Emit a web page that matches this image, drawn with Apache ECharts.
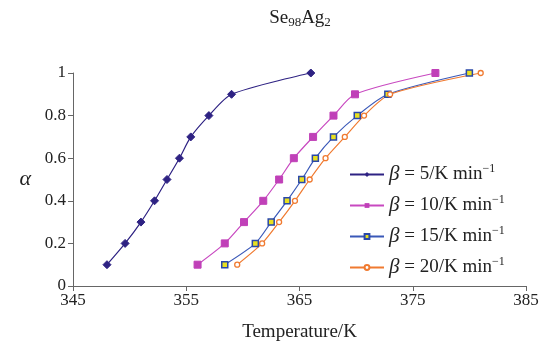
<!DOCTYPE html>
<html>
<head>
<meta charset="utf-8">
<script src="https://cdn.jsdelivr.net/npm/echarts@6/dist/echarts.min.js"></script>
<style>
  html, body { margin: 0; padding: 0; background: #fff; }
  #chart { width: 541px; height: 342px; }
</style>
</head>
<body>
<div id="chart"></div>
<script>
// alpha levels shared by all heating rates
var alphaLevels = [0.1, 0.2, 0.3, 0.4, 0.5, 0.6, 0.7, 0.8, 0.9, 1.0];
// temperatures (K) for each heating rate
var temp5 = [348.0, 349.6, 351.0, 352.2, 353.3, 354.4, 355.4, 357.0, 359.0, 366.0];
var temp10 = [356.0, 358.4, 360.1, 361.8, 363.2, 364.5, 366.2, 368.0, 369.9, 377.0];
var temp15 = [358.4, 361.1, 362.5, 363.9, 365.2, 366.4, 368.0, 370.1, 372.8, 380.0];
var temp20 = [359.5, 361.7, 363.2, 364.6, 365.9, 367.3, 369.0, 370.7, 373.0, 381.0];
var rates = ['5', '10', '15', '20'];
var xTicks = [345, 355, 365, 375, 385];

var serif = 'Liberation Serif';

function pairs (temps) {
  var out = [];
  temps.forEach(function (t, i) {
    out.push([t, alphaLevels[i]]);
  });
  return out;
}

function legendName (r) {
  return 'b' + r;
}

var chart = echarts.init(document.getElementById('chart'));

var option = {
  animation: false,
  title: {
    text: 'Se{sub|98}Ag{sub|2}',
    left: 295,
    top: 2,
    textAlign: 'center',
    textStyle: {
      fontFamily: serif,
      fontSize: 19,
      fontWeight: 'normal',
      color: '#222',
      lineHeight: 22,
      rich: {
        sub: { fontFamily: serif, fontSize: 13, color: '#222', verticalAlign: 'bottom', lineHeight: 16, padding: [6, 0, 0, 0] }
      }
    }
  },
  grid: {
    left: 73,
    right: 15,
    top: 73,
    bottom: 56,
    containLabel: false,
    outerBoundsMode: 'none'
  },
  legend: {
    orient: 'vertical',
    left: 344,
    top: 158,
    itemWidth: 34,
    itemHeight: 6,
    itemGap: 9,
    data: rates.map(legendName),
    formatter: function (name) {
      return '{b|β} = ' + name.slice(1) + '/K min{sup|−1}';
    },
    textStyle: {
      fontFamily: serif,
      fontSize: 19,
      color: '#222',
      rich: {
        b: { fontFamily: serif, fontStyle: 'italic', fontSize: 21, color: '#222' },
        sup: { fontFamily: serif, fontSize: 12, color: '#222', verticalAlign: 'top', padding: [0, 0, 11, 0] }
      }
    }
  },
  xAxis: {
    type: 'value',
    min: 345,
    max: 385,
    interval: 10,
    name: 'Temperature/K',
    nameLocation: 'middle',
    nameGap: 37,
    nameTextStyle: { fontFamily: serif, fontSize: 19, color: '#222' },
    axisLine: { lineStyle: { color: '#666', width: 1 } },
    axisTick: { show: true, length: 5, inside: false, lineStyle: { color: '#666' } },
    axisLabel: {
      fontFamily: serif, fontSize: 17, color: '#222', margin: 6,
      formatter: function (v) { return xTicks.indexOf(v) >= 0 ? String(v) : ''; }
    },
    splitLine: { show: false }
  },
  yAxis: {
    type: 'value',
    min: 0,
    max: 1,
    interval: 0.2,
    name: 'α',
    nameLocation: 'middle',
    nameRotate: 0,
    nameGap: 42,
    nameTextStyle: { fontFamily: serif, fontStyle: 'italic', fontSize: 22, color: '#222' },
    axisLine: { show: true, lineStyle: { color: '#666', width: 1 } },
    axisTick: { show: true, length: 5, lineStyle: { color: '#666' } },
    axisLabel: {
      fontFamily: serif, fontSize: 17, color: '#222', margin: 7,
      formatter: function (v) { return String(Math.round(v * 10) / 10); }
    },
    splitLine: { show: false }
  },
  series: [
    {
      name: legendName('5'),
      type: 'line',
      smooth: 0.25,
      data: pairs(temp5),
      symbol: 'diamond',
      symbolSize: 8,
      lineStyle: { color: '#2e2283', width: 1.2 },
      itemStyle: { color: '#2e2283', borderColor: '#2e2283' }
    },
    {
      name: legendName('10'),
      type: 'line',
      smooth: 0.25,
      data: pairs(temp10),
      symbol: 'rect',
      symbolSize: 7,
      lineStyle: { color: '#c848c0', width: 1.2 },
      itemStyle: { color: '#c040b8', borderColor: '#c040b8' }
    },
    {
      name: legendName('15'),
      type: 'line',
      smooth: 0.25,
      data: pairs(temp15),
      symbol: 'rect',
      symbolSize: 6,
      lineStyle: { color: '#3a58b8', width: 1.2 },
      itemStyle: { color: '#e8e020', borderColor: '#2a48a8', borderWidth: 1.5 }
    },
    {
      name: legendName('20'),
      type: 'line',
      smooth: 0.25,
      data: pairs(temp20),
      symbol: 'circle',
      symbolSize: 5,
      lineStyle: { color: '#f07a30', width: 1.2 },
      itemStyle: { color: '#ffffff', borderColor: '#f07a30', borderWidth: 1.3 }
    }
  ]
};

chart.setOption(option);
</script>
</body>
</html>
